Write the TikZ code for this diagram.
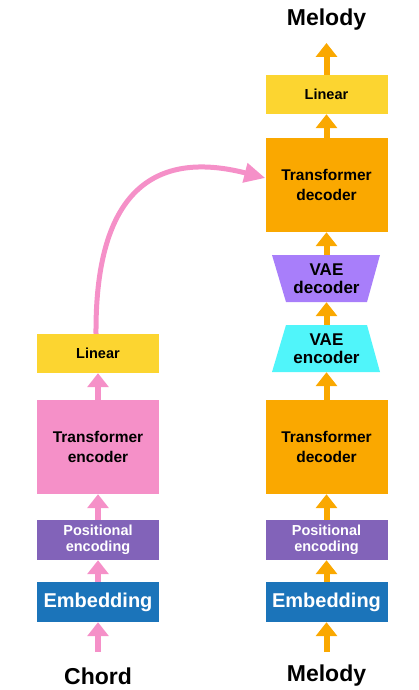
\documentclass[tikz,border=0pt]{standalone}
\usepackage{fontspec}
\setmainfont{Liberation Sans}
\usetikzlibrary{arrows.meta}
\definecolor{cpink}{HTML}{F590C8}
\definecolor{cyellow}{HTML}{FCD530}
\definecolor{corange}{HTML}{FAA800}
\definecolor{cpurple}{HTML}{8263B9}
\definecolor{cblue}{HTML}{1B74BA}
\definecolor{cviolet}{HTML}{A87EFA}
\definecolor{ccyan}{HTML}{50F5FA}
\tikzset{
  box/.style={rectangle, inner sep=0pt, minimum width=122pt, align=center, font=\bfseries\fontsize{14.5}{18}\selectfont},
  linbox/.style={box, fill=cyellow, minimum height=39pt},
  bigbox/.style={box, minimum height=94pt, font=\bfseries\fontsize{15.5}{20}\selectfont},
  posbox/.style={box, fill=cpurple, text=white, minimum height=40pt, font=\bfseries\fontsize{14.5}{16.5}\selectfont},
  embbox/.style={box, fill=cblue, text=white, minimum height=40pt, font=\bfseries\fontsize{20}{22}\selectfont},
  vaebox/.style={rectangle, inner sep=0pt, minimum width=108pt, minimum height=47pt, align=center, font=\bfseries\fontsize{17}{17.5}\selectfont},
  label/.style={font=\bfseries\fontsize{23}{24}\selectfont},
  oarr/.style={draw=corange, line width=6pt, -{Triangle[width=21pt,length=14pt]}, color=corange},
  parr/.style={draw=cpink, line width=6pt, -{Triangle[width=21pt,length=14pt]}, color=cpink},
  curvearr/.style={draw=cpink, line width=5pt, -{Triangle[width=19pt,length=21pt]}, color=cpink}
}
\begin{document}
\begin{tikzpicture}[x=1pt,y=-1pt]
\useasboundingbox (0,0) rectangle (419,690);
% left column
\node[linbox] (lin1) at (98,353.5) {Linear};
\node[bigbox, fill=cpink] (enc) at (98,447) {Transformer\\encoder};
\node[posbox] (pos1) at (98,540) {Positional\\encoding};
\node[embbox] (emb1) at (98,602) {Embedding};
\node[label] (chord) at (98,676) {Chord};
\coordinate (in1) at (98,652);
% right column
\node[label] (mtop) at (326.5,20) {Melody};
\coordinate (out2) at (326.5,43);
\node[linbox] (lin2) at (326.5,94.5) {Linear};
\node[bigbox, fill=corange] (dec2) at (326.5,185) {Transformer\\decoder};
\fill[cviolet] (272,255) -- (380,255) -- (367,302) -- (286,302) -- cycle;
\node[vaebox] (vaedec) at (326.5,278.5) {VAE\\decoder};
\fill[ccyan] (272,372) -- (286,325) -- (367,325) -- (380,372) -- cycle;
\node[vaebox] (vaeenc) at (326.5,348.5) {VAE\\encoder};
\node[bigbox, fill=corange] (dec1) at (326.5,447) {Transformer\\decoder};
\node[posbox] (pos2) at (326.5,540) {Positional\\encoding};
\node[embbox] (emb2) at (326.5,602) {Embedding};
\node[label] (mbot) at (326.5,676) {Melody};
\coordinate (in2) at (326.5,652);
% left arrows
\draw[parr] (in1) -- (emb1);
\draw[parr] (emb1) -- (pos1);
\draw[parr] (pos1) -- (enc);
\draw[parr] (enc) -- (lin1);
\draw[curvearr] ([xshift=-2pt]lin1.north) .. controls (95,168) and (175,155) .. ([yshift=7pt]dec2.west);
% right arrows
\draw[oarr] (in2) -- (emb2);
\draw[oarr] (emb2) -- (pos2);
\draw[oarr] (pos2) -- (dec1);
\draw[oarr] (dec1) -- (vaeenc);
\draw[oarr] (vaeenc) -- (vaedec);
\draw[oarr] (vaedec) -- (dec2);
\draw[oarr] (dec2) -- (lin2);
\draw[oarr] (lin2) -- (out2);
\end{tikzpicture}
\end{document}
